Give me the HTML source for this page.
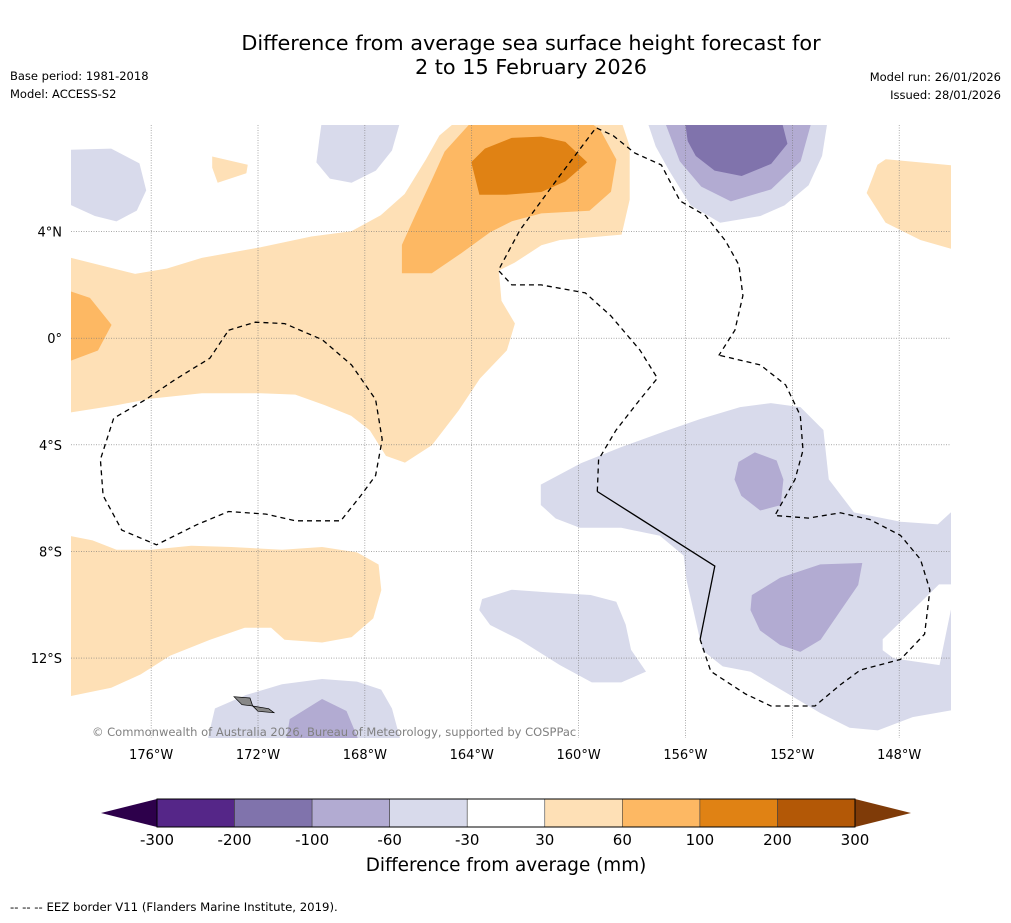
<!DOCTYPE html>
<html><head><meta charset="utf-8">
<style>
html,body{margin:0;padding:0;background:#fff;}
body{width:1011px;height:919px;overflow:hidden;font-family:"DejaVu Sans","Liberation Sans",sans-serif;}
svg text{font-family:"DejaVu Sans","Liberation Sans",sans-serif;}
</style></head>
<body>
<svg id="chart" width="1011" height="919" viewBox="0 0 1011 919" xmlns="http://www.w3.org/2000/svg">
<text x="531" y="50" font-size="20.8" text-anchor="middle">Difference from average sea surface height forecast for</text>
<text x="531" y="74" font-size="20.8" text-anchor="middle">2 to 15 February 2026</text>
<text x="10" y="80" font-size="11.5">Base period: 1981-2018</text>
<text x="10" y="98" font-size="11.5">Model: ACCESS-S2</text>
<text x="1001" y="81" font-size="11.5" text-anchor="end">Model run: 26/01/2026</text>
<text x="1001" y="99" font-size="11.5" text-anchor="end">Issued: 28/01/2026</text>
<defs><clipPath id="mapclip"><rect x="71" y="125" width="880" height="613"/></clipPath></defs>
<g id="map" clip-path="url(#mapclip)"></g>
<g id="axes"></g>
<text x="92" y="736" font-size="11.5" fill="#808080">© Commonwealth of Australia 2026, Bureau of Meteorology, supported by COSPPac</text>
<g id="cbar"></g>
<text x="506" y="871" font-size="18.4" text-anchor="middle">Difference from average (mm)</text>
<text x="10" y="911" font-size="11.7">--  --  -- EEZ border V11 (Flanders Marine Institute, 2019).</text>
</svg>
<script>
// Map extent (degrees)
const lonMin=-179, lonMax=-146.06, latMin=-15, latMax=8;
const lonTicks=[-176,-172,-168,-164,-160,-156,-152,-148];
const latTicks=[4,0,-4,-8,-12];
const lonTickLabels=["176°W","172°W","168°W","164°W","160°W","156°W","152°W","148°W"];
const latTickLabels=["4°N","0°","4°S","8°S","12°S"];
// Colorbar levels
const levels=[-300,-200,-100,-60,-30,30,60,100,200,300];
const levelColors=["#552688","#8073ac","#b2abd2","#d8daeb","#ffffff","#fee0b6","#fdb863","#e08214","#b35806"];
const extendLow="#2d004b", extendHigh="#7f3b08";
// Contour regions
const regionA=[[-179,3.0],[-176.6,2.4],[-175.4,2.6],[-174.1,3.0],[-171.9,3.4],[-170,3.8],[-168.5,4.0],[-167.4,4.6],[-166.5,5.4],[-165.7,6.7],[-165.2,7.6],[-164.6,8.1],[-158.4,8.1],[-158.1,7.2],[-158.1,5.2],[-158.4,3.9],[-160.7,3.7],[-161.4,3.5],[-162.4,2.85],[-163,2.55],[-162.9,1.4],[-162.4,0.55],[-162.7,-0.45],[-163.7,-1.5],[-164.5,-2.7],[-165.5,-4.0],[-166.5,-4.65],[-167.2,-4.4],[-167.8,-3.45],[-168.5,-2.9],[-169.5,-2.5],[-170.6,-2.1],[-171.9,-2.05],[-174.1,-2.05],[-176,-2.25],[-177.3,-2.5],[-179.2,-2.8]];
const regionB=[[-166.6,3.5],[-166.6,2.45],[-165.5,2.45],[-164.4,3.2],[-163.3,4.0],[-162.5,4.4],[-161.4,4.7],[-159.6,4.8],[-158.8,5.5],[-158.6,6.7],[-159.2,7.8],[-159.6,8.1],[-164.0,8.1],[-165,7.0],[-165.5,5.9],[-166.1,4.6]];
const regionC=[[-164,6.6],[-163.5,7.1],[-162.5,7.5],[-161.4,7.55],[-160.5,7.35],[-159.7,6.6],[-160.5,5.9],[-161.4,5.5],[-162.7,5.4],[-163.7,5.4]];
const regionD=[[-179.2,1.8],[-178.3,1.5],[-177.5,0.5],[-178,-0.45],[-179.2,-0.9]];
const regionE=[[-179.2,-7.4],[-178.2,-7.6],[-177.3,-7.95],[-176,-7.95],[-174.5,-7.8],[-173,-7.85],[-171.1,-7.95],[-169.6,-7.85],[-168.3,-8.05],[-167.5,-8.5],[-167.4,-9.45],[-167.7,-10.5],[-168.5,-11.2],[-169.6,-11.4],[-171,-11.3],[-171.5,-10.85],[-172.5,-10.85],[-173.8,-11.3],[-175.3,-11.9],[-176.4,-12.6],[-177.5,-13.1],[-179.2,-13.45]];
const regionF=[[-148.5,6.7],[-145.8,6.45],[-145.8,3.3],[-147.2,3.7],[-148.5,4.35],[-149.2,5.45],[-148.8,6.5]];
const regionG=[[-173.7,6.8],[-172.4,6.5],[-172.45,6.2],[-173.5,5.85],[-173.7,6.4]];
const regionH=[[-179.2,7.05],[-177.5,7.1],[-176.45,6.55],[-176.2,5.55],[-176.55,4.8],[-177.3,4.4],[-178.1,4.6],[-179.2,5.1]];
const regionI=[[-169.6,8.1],[-166.7,8.1],[-167,7.05],[-167.6,6.3],[-168.5,5.85],[-169.3,6.0],[-169.8,6.6],[-169.7,7.4]];
const regionJ=[[-157.4,8.1],[-150.7,8.1],[-150.9,6.85],[-151.4,5.75],[-152.3,5.0],[-153.2,4.6],[-154.7,4.35],[-155.8,5.0],[-156.6,6.3],[-157.1,7.2]];
const regionJ2=[[-156.75,8.1],[-151.3,8.1],[-151.7,6.65],[-152.8,5.6],[-154.3,5.15],[-155.4,5.7],[-156.2,6.65]];
const regionJ3=[[-156,8.1],[-152.4,8.1],[-152.2,7.3],[-152.8,6.55],[-153.9,6.1],[-154.9,6.3],[-155.6,6.85],[-155.9,7.4]];
const regionK=[[-161.4,-5.5],[-159.9,-4.7],[-158.4,-4.1],[-156.75,-3.5],[-155.45,-3.05],[-153.95,-2.6],[-152.8,-2.45],[-151.7,-2.6],[-150.85,-3.45],[-150.65,-5.3],[-149.7,-6.55],[-147.95,-6.9],[-146.55,-7.0],[-146.06,-6.55],[-145.8,-6.55],[-145.8,-13.9],[-147.5,-14.2],[-148.8,-14.7],[-149.85,-14.6],[-150.95,-14.05],[-151.95,-13.45],[-153.55,-12.5],[-154.6,-12.3],[-155.35,-11.7],[-155.95,-9.05],[-156.05,-8.15],[-156.95,-7.4],[-158.4,-7.1],[-159.95,-7.1],[-160.85,-6.75],[-161.4,-6.25]];
const regionKhole=[[-145.8,-9.25],[-146.5,-9.25],[-148.6,-11.3],[-148.6,-11.7],[-148.2,-12.0],[-146.5,-12.25],[-146.06,-10.1],[-145.8,-10.1]];
const regionL=[[-163.6,-9.8],[-162.5,-9.45],[-161.2,-9.55],[-159.55,-9.65],[-158.6,-9.9],[-158.25,-10.75],[-158.05,-11.7],[-157.5,-12.5],[-158.4,-12.9],[-159.5,-12.9],[-160.7,-12.25],[-162.2,-11.3],[-163.3,-10.75],[-163.7,-10.2]];
const regionM1=[[-154,-4.65],[-153.4,-4.3],[-152.6,-4.6],[-152.35,-5.3],[-152.45,-6.25],[-153.2,-6.45],[-153.9,-5.9],[-154.15,-5.3]];
const regionM2=[[-153.5,-9.65],[-152.45,-9.0],[-150.95,-8.5],[-149.4,-8.45],[-149.55,-9.25],[-150.2,-10.2],[-150.95,-11.3],[-151.7,-11.75],[-152.45,-11.5],[-153.2,-10.95],[-153.55,-10.2]];
const regionN=[[-173.6,-13.9],[-172.45,-13.4],[-171.1,-13.0],[-169.6,-12.8],[-168.3,-12.9],[-167.4,-13.2],[-167.0,-13.9],[-166.65,-15.2],[-173.9,-15.2]];
const regionN2=[[-170.8,-14.3],[-169.6,-13.55],[-168.7,-14.0],[-168.2,-15.2],[-170.95,-15.2]];
const regions=[["light-orange-band",5,regionA],["orange-core",6,regionB],["dark-orange-core",7,regionC],["orange-west",6,regionD],["light-orange-south",5,regionE],["light-orange-east",5,regionF],["light-orange-small",5,regionG],["light-purple-northwest",3,regionH],["light-purple-north",3,regionI],["light-purple-northeast",3,regionJ],["mid-purple-northeast",2,regionJ2],["dark-purple-northeast",1,regionJ3],["light-purple-southeast",3,regionK],["southeast-gap",4,regionKhole],["light-purple-south",3,regionL],["mid-purple-patch-1",2,regionM1],["mid-purple-patch-2",2,regionM2],["light-purple-samoa",3,regionN],["mid-purple-samoa",2,regionN2]];
// EEZ borders
const eezDashed1=[[-173.1,0.3],[-172.1,0.6],[-171,0.55],[-169.6,-0.05],[-168.5,-1.0],[-167.6,-2.3],[-167.35,-3.8],[-167.6,-5.15],[-168.15,-5.9],[-168.9,-6.85],[-170.6,-6.85],[-171.7,-6.6],[-173.1,-6.5],[-174.3,-7.0],[-175.8,-7.75],[-177.1,-7.2],[-177.8,-5.9],[-177.9,-4.55],[-177.4,-3.0],[-176.2,-2.3],[-175.1,-1.55],[-173.8,-0.75],[-173.1,0.3]];
const eezDashed2=[[-159.3,-5.75],[-159.25,-4.55],[-158.6,-3.45],[-157.7,-2.3],[-157.05,-1.5],[-157.7,-0.45],[-158.8,0.85],[-159.75,1.7],[-161.4,2.0],[-162.5,2.0],[-163,2.55],[-162.2,4.05],[-160.7,6.1],[-159.35,7.9],[-158.7,7.6],[-157.9,6.95],[-156.9,6.5],[-156.2,5.15],[-155.25,4.6],[-154.5,3.65],[-154,2.75],[-153.85,1.6],[-154.15,0.3],[-154.75,-0.65]];
const eezDashed3=[[-154.7,-0.65],[-153.2,-1.0],[-152.25,-1.75],[-151.7,-2.9],[-151.6,-4.2],[-151.9,-5.3],[-152.65,-6.65],[-151.4,-6.75],[-150.2,-6.55],[-149.1,-6.8],[-147.95,-7.4],[-147.2,-8.3],[-146.85,-9.45],[-147.05,-11.1],[-147.95,-12.05],[-149.45,-12.45],[-150.2,-13.0],[-151.15,-13.8],[-152.8,-13.8],[-153.75,-13.35],[-155.05,-12.5],[-155.45,-11.3]];
const eezSolid=[[-155.45,-11.3],[-154.9,-8.55],[-159.3,-5.75]];
const islands=[[[-172.9,-13.45],[-172.3,-13.5],[-172.2,-13.8],[-172.6,-13.75]],[[-172.2,-13.8],[-171.6,-13.9],[-171.4,-14.05],[-172.0,-14.0]]];

const X0=71,X1=951,Y0=125,Y1=738;
function xs(lon){return X0+(lon-lonMin)/(lonMax-lonMin)*(X1-X0);}
function ys(lat){return Y0+(latMax-lat)/(latMax-latMin)*(Y1-Y0);}
const NS="http://www.w3.org/2000/svg";
function mk(tag,attrs,parent){const e=document.createElementNS(NS,tag);for(const k in attrs)e.setAttribute(k,attrs[k]);parent.appendChild(e);return e;}
function pts(arr){return arr.map(p=>xs(p[0]).toFixed(1)+","+ys(p[1]).toFixed(1)).join(" ");}

const map=document.getElementById('map');
for(const r of regions){
  const c=levelColors[r[1]];
  const p=mk('polygon',{points:pts(r[2]),fill:c,stroke:c,'stroke-width':0.8},map);
  
  
}
for(const isl of islands){
  const p=mk('polygon',{points:pts(isl),fill:'#888',stroke:'#000','stroke-width':0.7},map);
  
  
}
const axes=document.getElementById('axes');
lonTicks.forEach((lon,i)=>{
  const l=mk('line',{x1:xs(lon),x2:xs(lon),y1:Y0,y2:Y1,stroke:'#777','stroke-width':0.6,'stroke-dasharray':'1,1.5'},axes);
  
  
  const t=mk('text',{x:xs(lon),y:759,'font-size':13,'text-anchor':'middle'},axes);
  t.textContent=lonTickLabels[i];
  
  
});
latTicks.forEach((lat,i)=>{
  const l=mk('line',{x1:X0,x2:X1,y1:ys(lat),y2:ys(lat),stroke:'#777','stroke-width':0.6,'stroke-dasharray':'1,1.5'},axes);
  
  
  const t=mk('text',{x:62,y:ys(lat)+5,'font-size':13,'text-anchor':'end'},axes);
  t.textContent=latTickLabels[i];
  
  
});
for(const line of [eezDashed1,eezDashed2,eezDashed3]){
  const p=mk('polyline',{points:pts(line),fill:'none',stroke:'#000','stroke-width':1.3,'stroke-dasharray':'5,4'},axes);
  
  
}
{
  const p=mk('polyline',{points:pts(eezSolid),fill:'none',stroke:'#000','stroke-width':1.3},axes);
  
  
}
const cb=document.getElementById('cbar');
const CB0=157,CB1=855,CBT=799,CBB=827;
const n=levelColors.length, w=(CB1-CB0)/n;
{
  const lo=mk('polygon',{points:`${CB0},${CBT} ${CB0},${CBB} 101,${(CBT+CBB)/2}`,fill:extendLow},cb);
  
  
  const hi=mk('polygon',{points:`${CB1},${CBT} ${CB1},${CBB} 911,${(CBT+CBB)/2}`,fill:extendHigh},cb);
  
  
}
levelColors.forEach((c,i)=>{
  const r=mk('rect',{x:CB0+i*w,y:CBT,width:w,height:CBB-CBT,fill:c,stroke:'#444','stroke-width':0.6},cb);
  
  
});
mk('rect',{x:CB0,y:CBT,width:CB1-CB0,height:CBB-CBT,fill:'none',stroke:'#000','stroke-width':1},cb);
levels.forEach((v,i)=>{
  const t=mk('text',{x:CB0+i*w,y:845,'font-size':15,'text-anchor':'middle'},cb);
  t.textContent=v;
  
  
});
</script>
</body></html>
